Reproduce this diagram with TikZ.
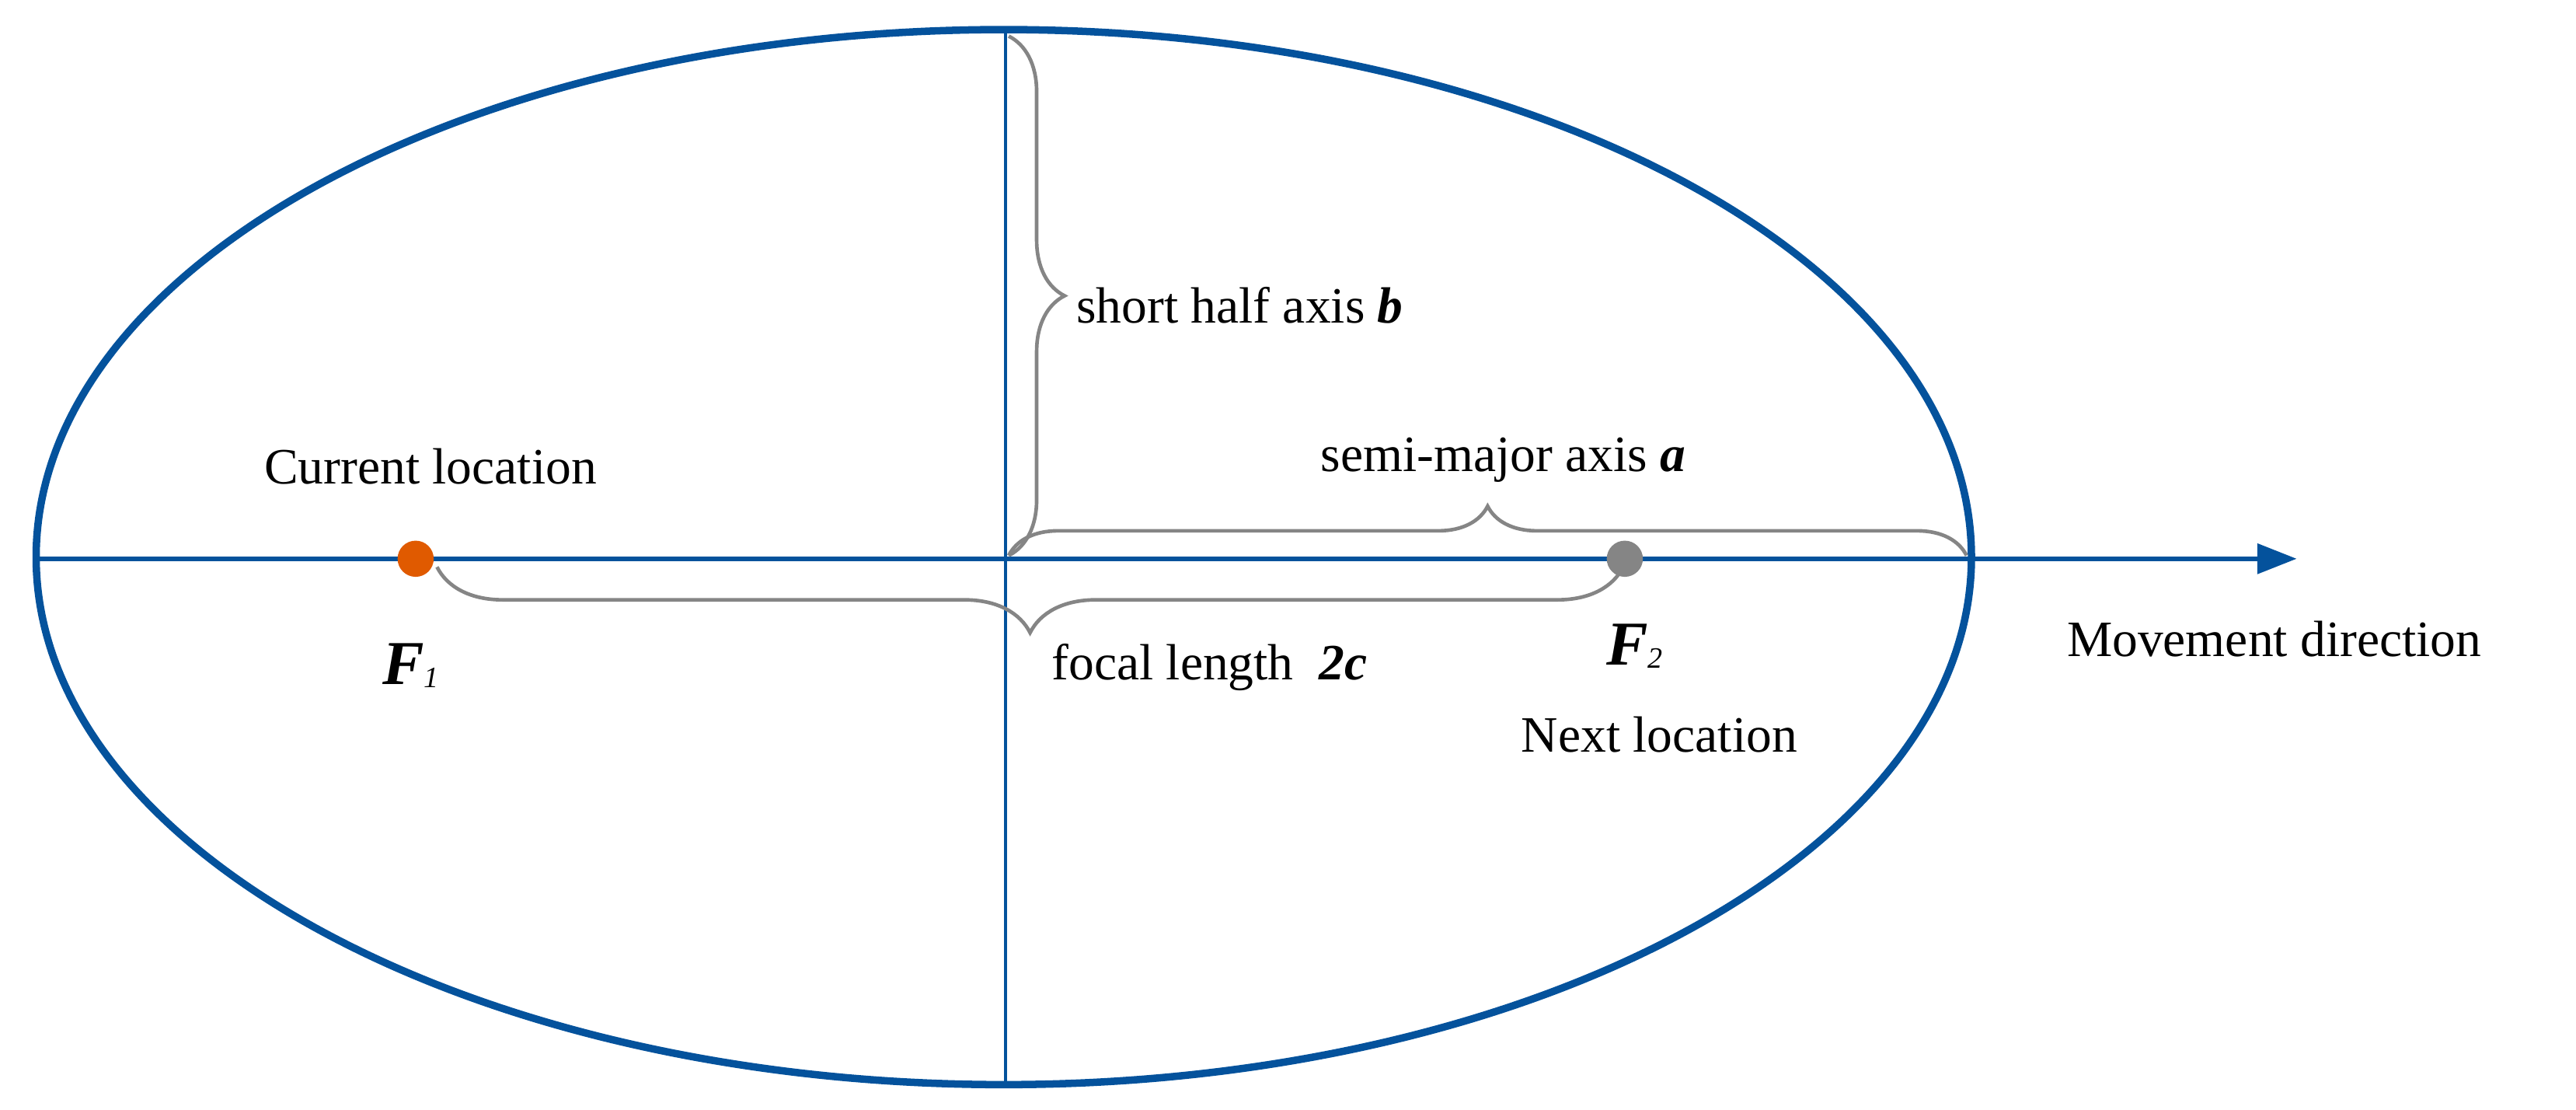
\documentclass[tikz,border=0pt]{standalone}
\usepackage{fontspec}
\setmainfont{Liberation Serif}
\usetikzlibrary{decorations.pathreplacing,arrows.meta}
\definecolor{eblue}{HTML}{04529C}
\definecolor{egray}{HTML}{858585}
\definecolor{eorange}{HTML}{E05A00}
\begin{document}
\begin{tikzpicture}[x=1pt,y=-1pt,
  lbl/.style={font=\fontsize{31}{36}\selectfont, inner sep=0},
  brc/.style={draw=egray, line width=2.2pt, decorate},
  dot/.style={circle, inner sep=0, minimum size=22pt}]
\useasboundingbox (0,0) rectangle (1568,675);
\draw[eblue, line width=4.5pt] (611,339) ellipse [x radius=589, y radius=321];
\coordinate (top) at (612,18);
\coordinate (bot) at (612,660);
\draw[eblue, line width=2pt] (top) -- (bot);
\coordinate (L) at (24,340);
\coordinate (R) at (1398,340);
\draw[eblue, line width=3pt, -{Triangle[length=24pt,width=18pt]}] (L) -- (R);
\node[dot, fill=eorange] (F1) at (253,340) {};
\node[dot, fill=egray] (F2) at (989,340) {};
% braces
\draw[brc, decoration={brace, amplitude=34pt}] (614,22) -- (614,338);
\draw[brc, decoration={brace, amplitude=30pt}] (614,338) -- (1197,338);
\draw[brc, decoration={brace, amplitude=40pt, mirror}] (266,345) -- (988,345);
\node[lbl, anchor=west] (lb) at (655,186) {short half axis \textbf{\textit{b}}};
\node[lbl] (la) at (915,280) {semi-major axis \textbf{\textit{a}}};
\node[lbl, anchor=west] (lc) at (640,406) {focal length\ \ \textbf{\textit{2c}}};
\node[lbl] (cur) at (262,284) {Current location};
\node[lbl] (nxt) at (1010,447) {Next location};
\node[lbl, anchor=west] (mv) at (1258,389) {Movement direction};
\node[lbl, font=\fontsize{38}{40}\selectfont] (f1l) at (250,405) {\textbf{\textit{F}}\textit{\fontsize{18}{20}\selectfont\raisebox{-2pt}{1}}};
\node[lbl, font=\fontsize{38}{40}\selectfont] (f2l) at (995,393) {\textbf{\textit{F}}\textit{\fontsize{18}{20}\selectfont\raisebox{-2pt}{2}}};
\end{tikzpicture}
\end{document}
